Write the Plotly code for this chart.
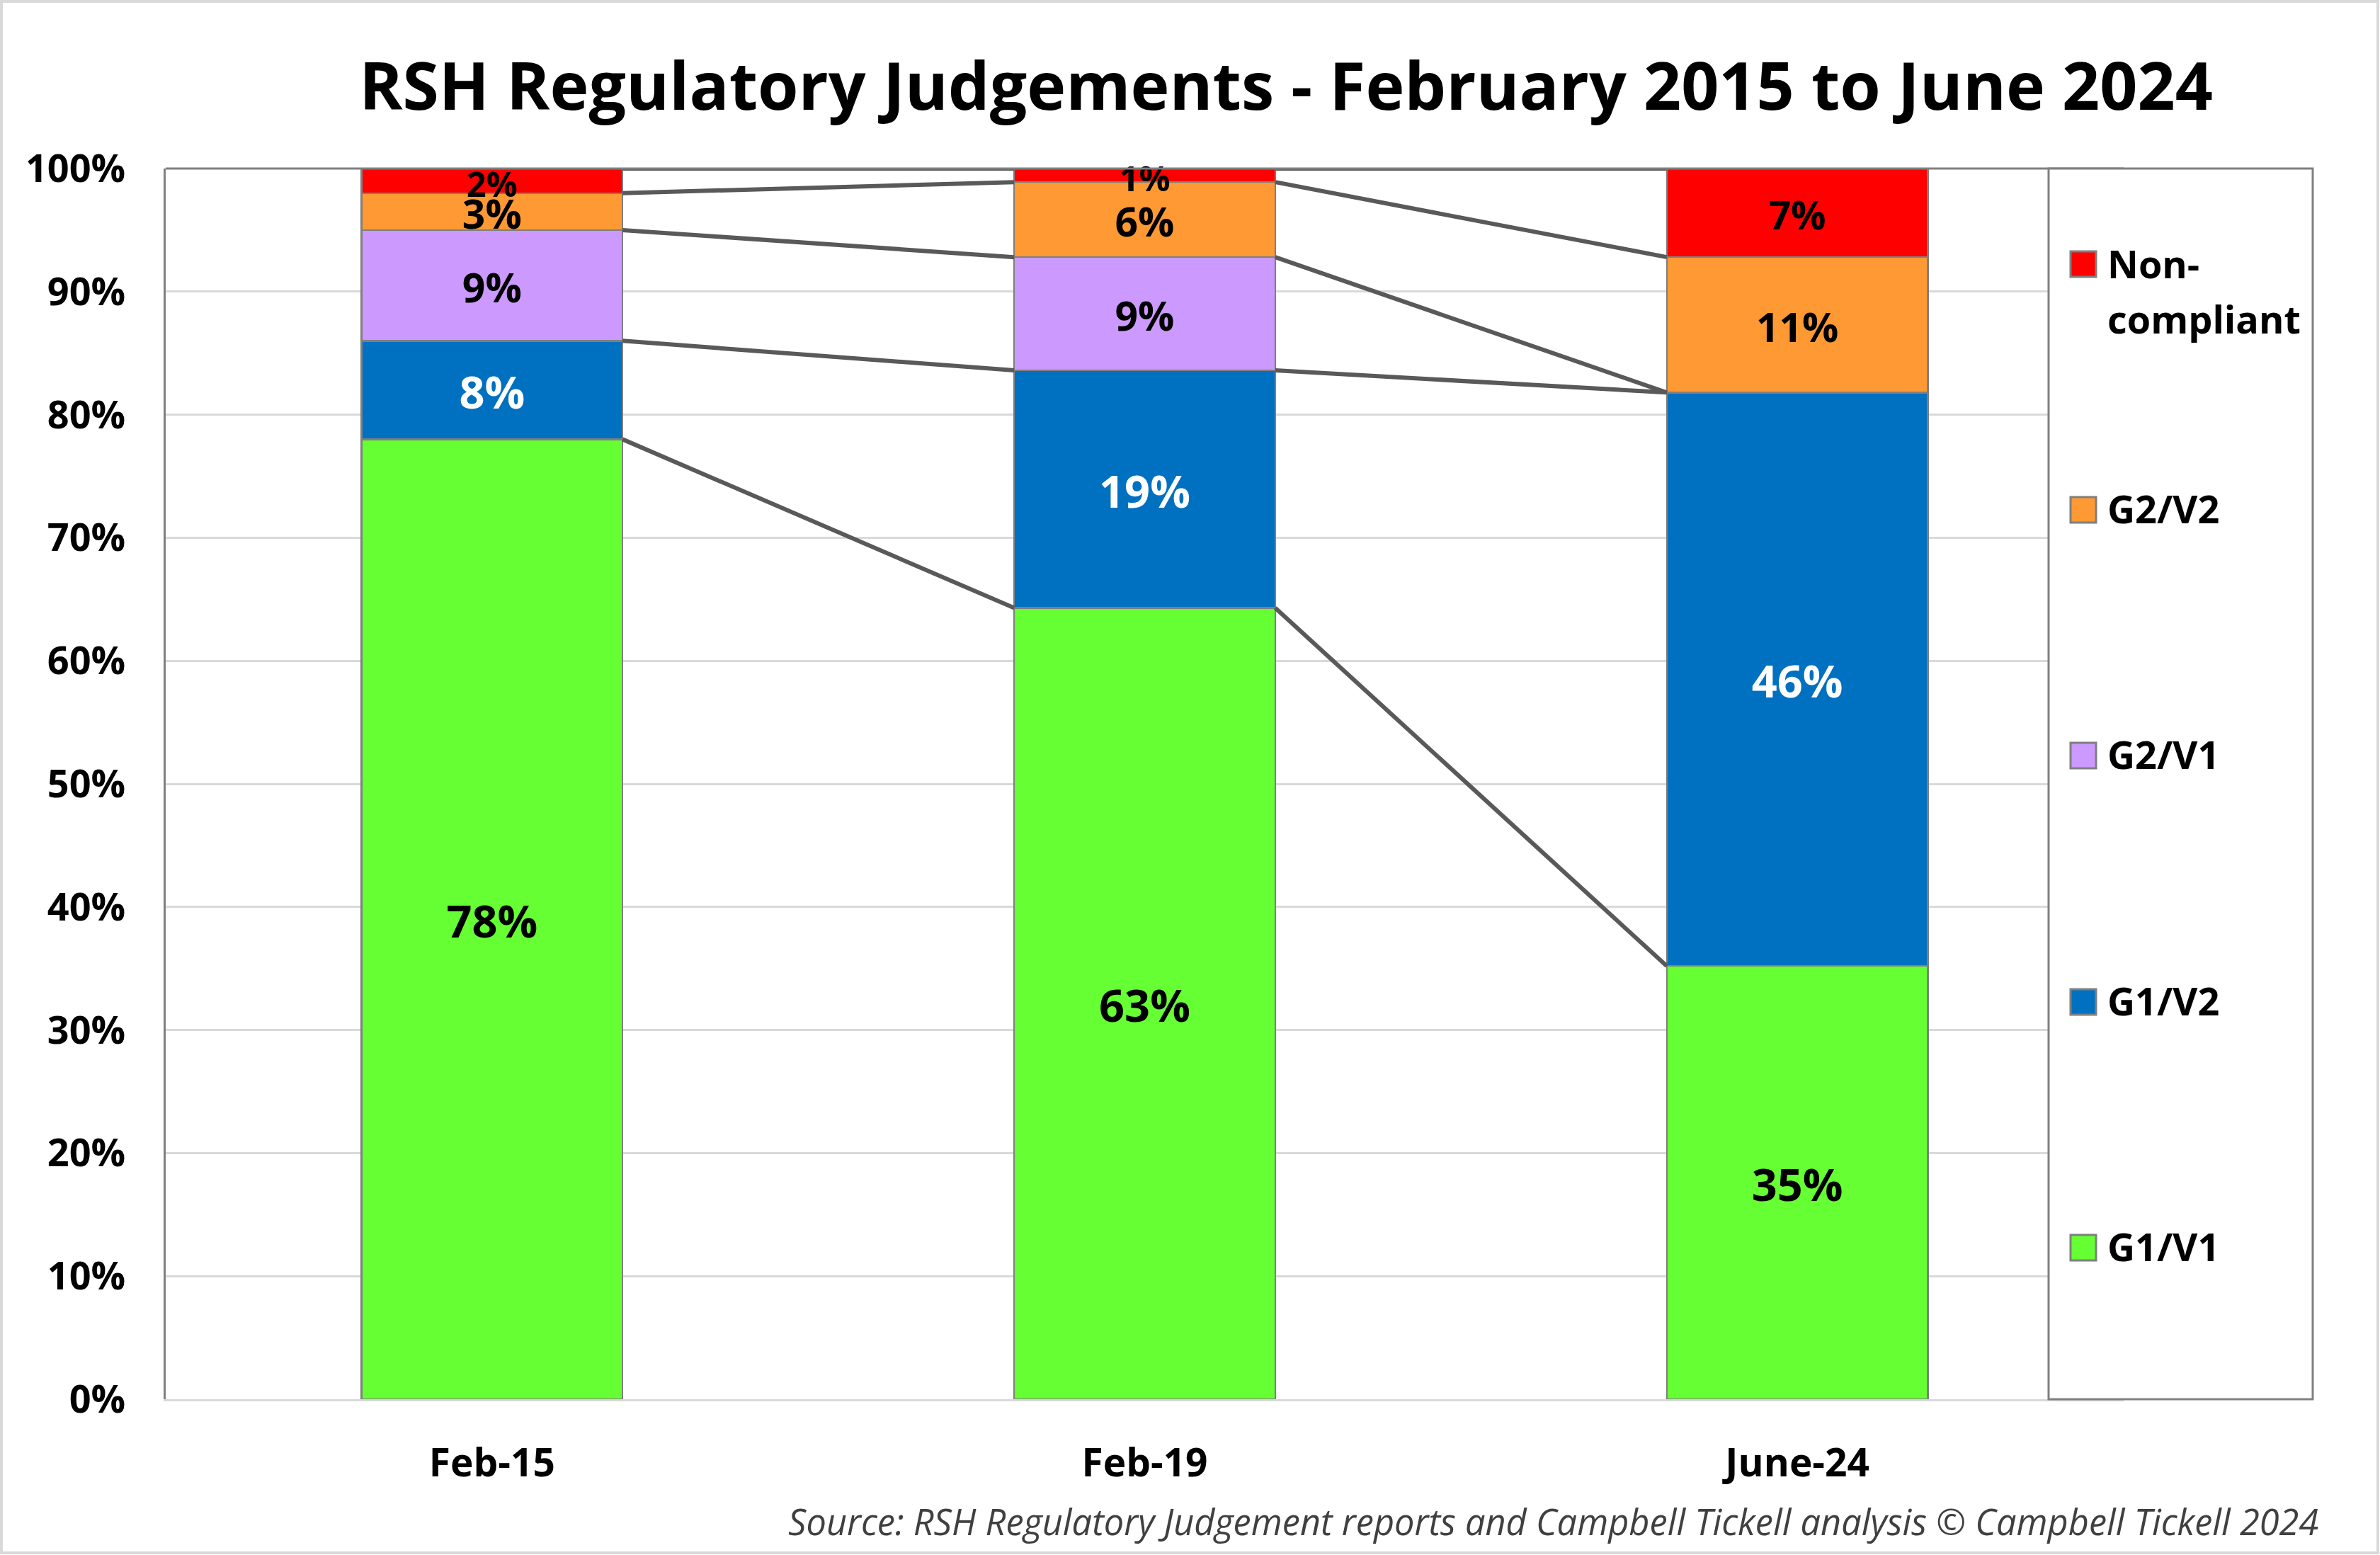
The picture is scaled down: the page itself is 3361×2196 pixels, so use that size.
import plotly.graph_objects as go

# ---------------- data ----------------
categories = ["Feb-15", "Feb-19", "June-24"]
series_names = ["G1/V1", "G1/V2", "G2/V1", "G2/V2", "Non-compliant"]
g1v1 = [78.0, 64.3, 35.2]
g1v2 = [8.0, 19.3, 46.6]
g2v1 = [9.0, 9.2, 0.0]
g2v2 = [3.0, 6.1, 11.0]
non_compliant = [2.0, 1.1, 7.2]
# data-label texts as printed on the chart
g1v1_labels = ["78%", "63%", "35%"]
g1v2_labels = ["8%", "19%", "46%"]
g2v1_labels = ["9%", "9%", ""]
g2v2_labels = ["3%", "6%", "11%"]
nc_labels = ["2%", "1%", "7%"]
y_ticks = [0, 10, 20, 30, 40, 50, 60, 70, 80, 90, 100]
y_tick_labels = [f"{v}%" for v in y_ticks]

series_values = [g1v1, g1v2, g2v1, g2v2, non_compliant]
series_labels = [g1v1_labels, g1v2_labels, g2v1_labels, g2v2_labels, nc_labels]

# ---------------- style ----------------
colors = ["#66FF33", "#0070C0", "#CC99FF", "#FF9933", "#FF0000"]
text_colors = ["#000000", "#FFFFFF", "#000000", "#000000", "#000000"]
label_sizes = [[63, 63, 63], [63, 63, 63], [57, 57, 57], [57, 57, 57], [49, 49, 55]]

FONT = "Open Sans"
W, H = 3361, 2196
L, R, T, B = 234, 362, 238, 220
PW, PH = W - L - R, H - T - B
LABEL_DROP = 10 / PH * 100  # small downward nudge (in axis units) to centre glyphs

def px_x(p):
    return (p - L) / PW

def px_y(p):
    return (H - B - p) / PH

xpos = list(range(len(categories)))
BAR_W = 0.4

fig = go.Figure()
for name, vals, col in zip(series_names, series_values, colors):
    fig.add_trace(go.Bar(
        x=xpos, y=vals, name=name, width=BAR_W,
        marker=dict(color=col, line=dict(color="#7F7F7F", width=2.5)),
        showlegend=False, hoverinfo="skip",
    ))

# series lines connecting the top of each segment between adjacent bars
cum = [0.0] * len(categories)
mids = []
for vals in series_values:
    mids.append([c + v / 2 - LABEL_DROP for c, v in zip(cum, vals)])
    cum = [c + v for c, v in zip(cum, vals)]
    xs, ys = [], []
    for i in range(len(categories) - 1):
        xs += [xpos[i] + BAR_W / 2, xpos[i + 1] - BAR_W / 2, None]
        ys += [cum[i], cum[i + 1], None]
    fig.add_trace(go.Scatter(
        x=xs, y=ys, mode="lines", line=dict(color="#595959", width=6),
        showlegend=False, hoverinfo="skip", cliponaxis=False,
    ))

# data labels centred in each segment
for labs, mid, tcol, sizes in zip(series_labels, mids, text_colors, label_sizes):
    fig.add_trace(go.Scatter(
        x=xpos, y=mid, mode="text", text=labs, textposition="middle center",
        textfont=dict(family=FONT, size=sizes, color=tcol, weight="bold"),
        showlegend=False, hoverinfo="skip", cliponaxis=False,
    ))

shapes = []
# outer chart frame
shapes.append(dict(type="rect", xref="paper", yref="paper",
                   x0=px_x(2), x1=px_x(W - 3), y0=px_y(H - 3), y1=px_y(2),
                   line=dict(color="#D9D9D9", width=4), fillcolor="rgba(0,0,0,0)", layer="below"))
# plot area top border
shapes.append(dict(type="line", xref="paper", yref="paper", x0=0, x1=1, y0=1, y1=1,
                   line=dict(color="#808080", width=3), layer="above"))
# legend box
shapes.append(dict(type="rect", xref="paper", yref="paper",
                   x0=px_x(2893), x1=px_x(3266), y0=0, y1=1,
                   line=dict(color="#808080", width=3), fillcolor="#FFFFFF", layer="above"))

annotations = []
# legend entries (top to bottom): name, text lines, swatch centre y, text line centres y
legend_rows = [
    ("Non-compliant", ["Non-", "compliant"], 373, [372, 450]),
    ("G2/V2", ["G2/V2"], 720, [718]),
    ("G2/V1", ["G2/V1"], 1067, [1065]),
    ("G1/V2", ["G1/V2"], 1415, [1413]),
    ("G1/V1", ["G1/V1"], 1762, [1760]),
]
for name, lines, sy, tys in legend_rows:
    col = colors[series_names.index(name)]
    shapes.append(dict(type="rect", xref="paper", yref="paper",
                       x0=px_x(2924), x1=px_x(2960), y0=px_y(sy + 18), y1=px_y(sy - 18),
                       line=dict(color="#7F7F7F", width=3), fillcolor=col, layer="above"))
    for txt, ty in zip(lines, tys):
        annotations.append(dict(text=txt, xref="paper", yref="paper", x=px_x(2974), y=px_y(ty),
                                xanchor="left", yanchor="middle", align="left", showarrow=False,
                                font=dict(family=FONT, size=54, color="#000000", weight="bold")))

# source footer
annotations.append(dict(
    text="<i>Source: RSH Regulatory Judgement reports and Campbell Tickell analysis © Campbell Tickell 2024</i>",
    xref="paper", yref="paper", x=px_x(3276), y=px_y(2148), xanchor="right", yanchor="middle",
    showarrow=False, font=dict(family=FONT, size=50.5, color="#404040")))

fig.update_layout(
    width=W, height=H,
    margin=dict(l=L, r=R, t=T, b=B, pad=0),
    paper_bgcolor="#FFFFFF", plot_bgcolor="#FFFFFF",
    barmode="stack", bargap=0.6,
    title=dict(text="RSH Regulatory Judgements - February 2015 to June 2024",
               x=1816 / W, xanchor="center", xref="container",
               y=1 - 122 / H, yanchor="middle", yref="container",
               font=dict(family=FONT, size=93, color="#000000", weight="bold")),
    xaxis=dict(range=[-0.5, 2.5], tickvals=xpos, ticktext=categories,
               showgrid=False, zeroline=False, showline=True, linecolor="#D9D9D9", linewidth=3,
               ticks="", ticklabelstandoff=40,
               tickfont=dict(family=FONT, size=55, color="#000000", weight="bold")),
    yaxis=dict(range=[0, 100.001], tickvals=y_ticks, ticktext=y_tick_labels,
               showgrid=True, gridcolor="#D9D9D9", gridwidth=3, zeroline=False,
               showline=True, linecolor="#808080", linewidth=3, ticks="",
               ticklabelstandoff=43,
               tickfont=dict(family=FONT, size=54, color="#000000", weight="bold")),
    shapes=shapes, annotations=annotations,
    showlegend=False,
)

fig.write_html("out.html", config={"displayModeBar": False},
               post_script="document.body.style.margin='0';document.body.style.padding='0';")
